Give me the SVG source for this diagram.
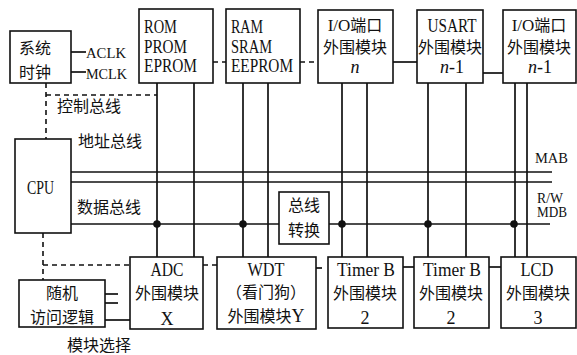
<svg xmlns="http://www.w3.org/2000/svg" width="577" height="355" viewBox="0 0 577 355">
<style>
.box{fill:#fff;stroke:#111;stroke-width:1.6}
.ln{fill:none;stroke:#111;stroke-width:1.7}
.dl{fill:none;stroke:#111;stroke-width:1.6;stroke-dasharray:5 4}
.t{font-family:"Liberation Serif","Noto Sans CJK SC",serif;font-size:18px;fill:#111}
.c{font-family:"Noto Sans CJK SC",sans-serif;font-size:16px;fill:#111}
.m{text-anchor:middle}
.s{font-size:14px}
</style>
<g id="connectors">
<line class="ln" x1="71" y1="52" x2="86" y2="52"/>
<line class="ln" x1="71" y1="72" x2="86" y2="72"/>
<polyline class="dl" points="46,83 46,139"/>
<polyline class="dl" points="46,95 157,95"/>
<polyline class="dl" points="43,233 43,280"/>
<polyline class="dl" points="43,265 130,265"/>
<line class="ln" x1="71" y1="172" x2="552" y2="172"/>
<line class="ln" x1="71" y1="182" x2="552" y2="182"/>
<line class="ln" x1="71" y1="224" x2="550" y2="224"/>
<line class="ln" x1="157" y1="83" x2="157" y2="257"/>
<line class="ln" x1="194" y1="83" x2="194" y2="257"/>
<line class="ln" x1="243" y1="83" x2="243" y2="257"/>
<line class="ln" x1="268" y1="83" x2="268" y2="257"/>
<line class="ln" x1="342" y1="83" x2="342" y2="257"/>
<line class="ln" x1="367" y1="83" x2="367" y2="257"/>
<line class="ln" x1="428" y1="83" x2="428" y2="257"/>
<line class="ln" x1="466" y1="83" x2="466" y2="257"/>
<line class="ln" x1="515" y1="83" x2="515" y2="257"/>
<line class="ln" x1="527" y1="83" x2="527" y2="257"/>
<circle cx="157" cy="224" r="3.8" fill="#111"/>
<circle cx="243" cy="224" r="3.8" fill="#111"/>
<circle cx="342" cy="224" r="3.8" fill="#111"/>
<circle cx="428" cy="224" r="3.8" fill="#111"/>
<circle cx="514" cy="224" r="3.8" fill="#111"/>
<line class="dl" x1="213" y1="62" x2="226" y2="62" stroke-dasharray="4 4"/>
<line class="dl" x1="300" y1="62" x2="318" y2="62" stroke-dasharray="5 5"/>
<line class="ln" x1="393" y1="62" x2="417" y2="62"/>
<line class="ln" x1="483" y1="73" x2="503" y2="73"/>
<line class="dl" x1="203" y1="265" x2="217" y2="265" stroke-dasharray="4 4"/>
<line class="ln" x1="316" y1="268" x2="322" y2="268"/>
<line class="ln" x1="403" y1="267" x2="414" y2="267"/>
<line class="ln" x1="489" y1="267" x2="501" y2="267"/>
<line class="ln" x1="105" y1="294" x2="118" y2="294"/>
<line class="ln" x1="105" y1="303" x2="118" y2="303"/>
<line class="ln" x1="105" y1="320" x2="130" y2="320"/>
</g>
<g id="clock">
<rect class="box" x="10" y="31" width="61" height="52"/>
<text class="c" x="19" y="54">系统</text>
<text class="c" x="19" y="78">时钟</text>
</g>
<g id="clk-labels">
<text class="t s" x="86" y="58" textLength="40" lengthAdjust="spacingAndGlyphs">ACLK</text>
<text class="t s" x="86" y="79" textLength="41" lengthAdjust="spacingAndGlyphs">MCLK</text>
</g>
<g id="rom">
<rect class="box" x="139" y="9" width="74" height="74"/>
<text class="t" x="144" y="33" textLength="33" lengthAdjust="spacingAndGlyphs">ROM</text>
<text class="t" x="144" y="53" textLength="43" lengthAdjust="spacingAndGlyphs">PROM</text>
<text class="t" x="144" y="72" textLength="53" lengthAdjust="spacingAndGlyphs">EPROM</text>
</g>
<g id="ram">
<rect class="box" x="226" y="9" width="74" height="74"/>
<text class="t" x="231" y="33" textLength="32" lengthAdjust="spacingAndGlyphs">RAM</text>
<text class="t" x="231" y="53" textLength="41" lengthAdjust="spacingAndGlyphs">SRAM</text>
<text class="t" x="231" y="72" textLength="62" lengthAdjust="spacingAndGlyphs">EEPROM</text>
</g>
<g id="io-n">
<rect class="box" x="318" y="10" width="75" height="73"/>
<text class="c m" x="355" y="31"><tspan font-family="Liberation Serif" font-size="17">I/O</tspan>端口</text>
<text class="c m" x="355" y="53">外围模块</text>
<text class="t m" x="355" y="73" font-size="17" font-style="italic">n</text>
</g>
<g id="usart">
<rect class="box" x="417" y="10" width="66" height="73"/>
<text class="t m" x="452" y="32" font-size="17" textLength="49" lengthAdjust="spacingAndGlyphs">USART</text>
<text class="c m" x="450" y="53">外围模块</text>
<text class="t m" x="452" y="73" font-size="17"><tspan font-style="italic">n</tspan>-1</text>
</g>
<g id="io-n1">
<rect class="box" x="503" y="10" width="73" height="73"/>
<text class="c m" x="539" y="31"><tspan font-family="Liberation Serif" font-size="17">I/O</tspan>端口</text>
<text class="c m" x="539" y="53">外围模块</text>
<text class="t m" x="540" y="73" font-size="17"><tspan font-style="italic">n</tspan>-1</text>
</g>
<g id="bus-labels">
<text class="c" x="57" y="112">控制总线</text>
<text class="c" x="78" y="147">地址总线</text>
<text class="c" x="77" y="213">数据总线</text>
<text class="t s" x="535" y="163" textLength="33" lengthAdjust="spacingAndGlyphs">MAB</text>
<text class="t s" x="537" y="203" textLength="26" lengthAdjust="spacingAndGlyphs">R/W</text>
<text class="t s" x="537" y="217" textLength="30" lengthAdjust="spacingAndGlyphs">MDB</text>
</g>
<g id="cpu">
<rect class="box" x="15" y="139" width="56" height="94"/>
<text class="t" x="27" y="194" textLength="27" lengthAdjust="spacingAndGlyphs">CPU</text>
</g>
<g id="bus-conv">
<rect class="box" x="279" y="192" width="50" height="52"/>
<text class="c m" x="304" y="211">总线</text>
<text class="c m" x="304" y="236">转换</text>
</g>
<g id="adc">
<rect class="box" x="130" y="257" width="73" height="72"/>
<text class="t m" x="167" y="276" textLength="33" lengthAdjust="spacingAndGlyphs">ADC</text>
<text class="c m" x="167" y="299">外围模块</text>
<text class="t m" x="167" y="325">X</text>
</g>
<g id="wdt">
<rect class="box" x="217" y="257" width="99" height="72"/>
<text class="t m" x="266" y="276" textLength="37" lengthAdjust="spacingAndGlyphs">WDT</text>
<text class="c m" x="266" y="298">（看门狗）</text>
<text class="c m" x="266" y="322">外围模块<tspan class="t">Y</tspan></text>
</g>
<g id="timerb1">
<rect class="box" x="328" y="257" width="75" height="71"/>
<text class="t m" x="366" y="276" textLength="58" lengthAdjust="spacingAndGlyphs">Timer B</text>
<text class="c m" x="365" y="299">外围模块</text>
<text class="t m" x="365" y="324">2</text>
</g>
<g id="timerb2">
<rect class="box" x="414" y="257" width="75" height="71"/>
<text class="t m" x="452" y="276" textLength="58" lengthAdjust="spacingAndGlyphs">Timer B</text>
<text class="c m" x="451" y="299">外围模块</text>
<text class="t m" x="451" y="324">2</text>
</g>
<g id="lcd">
<rect class="box" x="501" y="257" width="75" height="71"/>
<text class="t m" x="537" y="276" textLength="33" lengthAdjust="spacingAndGlyphs">LCD</text>
<text class="c m" x="538" y="299">外围模块</text>
<text class="t m" x="538" y="324">3</text>
</g>
<g id="random-logic">
<rect class="box" x="19" y="280" width="86" height="47"/>
<text class="c m" x="62" y="299">随机</text>
<text class="c m" x="62" y="323">访问逻辑</text>
</g>
<g id="module-select">
<text class="c" x="67" y="351">模块选择</text>
</g>
</svg>
